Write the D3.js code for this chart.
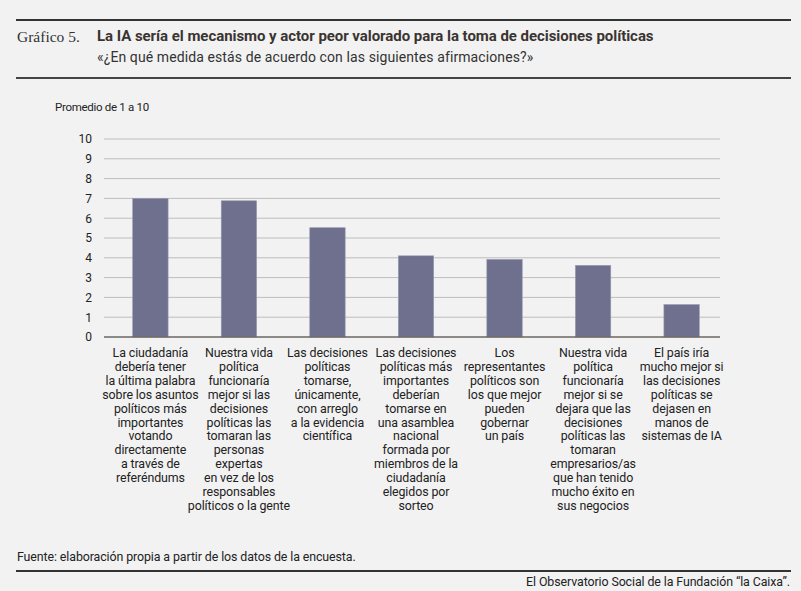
<!DOCTYPE html>
<html>
<head>
<meta charset="utf-8">
<script src="https://cdn.jsdelivr.net/npm/d3@7"></script>
<style>
  body { margin: 0; background: #f2f2f2; }
  svg { display: block; font-family: Roboto, sans-serif; }
</style>
</head>
<body>
<div id="chart"></div>
<script>
// data
const categories = [
  ["La ciudadanía", "debería tener", "la última palabra", "sobre los asuntos", "políticos más", "importantes", "votando", "directamente", "a través de", "referéndums"],
  ["Nuestra vida", "política", "funcionaría", "mejor si las", "decisiones", "políticas las", "tomaran las", "personas", "expertas", "en vez de los", "responsables", "políticos o la gente"],
  ["Las decisiones", "políticas", "tomarse,", "únicamente,", "con arreglo", "a la evidencia", "científica"],
  ["Las decisiones", "políticas más", "importantes", "deberían", "tomarse en", "una asamblea", "nacional", "formada por", "miembros de la", "ciudadanía", "elegidos por", "sorteo"],
  ["Los", "representantes", "políticos son", "los que mejor", "pueden", "gobernar", "un país"],
  ["Nuestra vida", "política", "funcionaría", "mejor si se", "dejara que las", "decisiones", "políticas las", "tomaran", "empresarios/as", "que han tenido", "mucho éxito en", "sus negocios"],
  ["El país iría", "mucho mejor si", "las decisiones", "políticas se", "dejasen en", "manos de", "sistemas de IA"]
];
const values = [7.0, 6.88, 5.52, 4.1, 3.92, 3.62, 1.64];
const yTicks = [0, 1, 2, 3, 4, 5, 6, 7, 8, 9, 10];

const W = 801, H = 591;
const svg = d3.select("#chart").append("svg")
  .attr("width", W)
  .attr("height", H);

svg.append("rect").attr("width", W).attr("height", H).attr("fill", "#f2f2f2");

// header
svg.append("line").attr("x1", 16).attr("x2", 791).attr("y1", 20).attr("y2", 20)
  .attr("stroke", "#333").attr("stroke-width", 2);
svg.append("line").attr("x1", 16).attr("x2", 791).attr("y1", 78).attr("y2", 78)
  .attr("stroke", "#444").attr("stroke-width", 2);

svg.append("text")
  .attr("x", 17).attr("y", 42)
  .style("font-family", "'Liberation Serif', serif")
  .style("font-size", "15.5px")
  .style("fill", "#333")
  .text("Gráfico 5.");

svg.append("text")
  .attr("x", 97).attr("y", 41)
  .style("font-size", "15px")
  .style("font-weight", "bold")
  .style("letter-spacing", "-0.05px")
  .style("fill", "#3a3431")
  .text("La IA sería el mecanismo y actor peor valorado para la toma de decisiones políticas");

svg.append("text")
  .attr("x", 97).attr("y", 62)
  .style("font-size", "14px")
  .style("letter-spacing", "0.1px")
  .style("fill", "#333")
  .text("«¿En qué medida estás de acuerdo con las siguientes afirmaciones?»");

svg.append("text")
  .attr("x", 55).attr("y", 111)
  .style("font-size", "11.5px")
  .style("letter-spacing", "-0.3px")
  .style("fill", "#222")
  .text("Promedio de 1 a 10");

// chart area
const x0 = 104, x1 = 720, yTop = 139, yBot = 337;

const x = d3.scaleBand()
  .domain(d3.range(values.length))
  .range([x0, 728])
  .paddingInner(0.6)
  .paddingOuter(0.324);

const y = d3.scaleLinear()
  .domain([0, 10])
  .range([yBot, yTop]);

// gridlines
svg.append("g")
  .selectAll("line")
  .data(yTicks.filter(d => d > 0))
  .join("line")
  .attr("x1", x0).attr("x2", x1)
  .attr("y1", d => y(d)).attr("y2", d => y(d))
  .attr("stroke", "#bdbdbd")
  .attr("stroke-width", 1);

// y axis labels
const yAxis = svg.append("g")
  .attr("transform", `translate(${x0 - 12},0)`)
  .call(d3.axisLeft(y).tickValues(yTicks).tickSize(0).tickPadding(0));
yAxis.select(".domain").remove();
yAxis.selectAll("text")
  .style("font-family", "Roboto, sans-serif")
  .style("font-size", "12px")
  .style("fill", "#222");

// bars
svg.append("g")
  .selectAll("rect")
  .data(values)
  .join("rect")
  .attr("x", (d, i) => x(i))
  .attr("width", x.bandwidth())
  .attr("y", d => y(d))
  .attr("height", d => y(0) - y(d))
  .attr("fill", "#6e708d")
  .attr("stroke", "#9a9cb3")
  .attr("stroke-width", 0.6);

// baseline
svg.append("line")
  .attr("x1", x0).attr("x2", x1)
  .attr("y1", y(0)).attr("y2", y(0))
  .attr("stroke", "#6b6663")
  .attr("stroke-width", 1.6);

// category labels
const labels = svg.append("g")
  .selectAll("text")
  .data(categories)
  .join("text")
  .attr("x", (d, i) => x(i) + x.bandwidth() / 2)
  .attr("y", 357)
  .attr("text-anchor", "middle")
  .style("font-size", "12.4px")
  .style("letter-spacing", "-0.1px")
  .style("fill", "#222");

labels.selectAll("tspan")
  .data(d => d)
  .join("tspan")
  .attr("x", function () { return d3.select(this.parentNode).attr("x"); })
  .attr("dy", (d, i) => i === 0 ? 0 : 13.9)
  .text(d => d);

// footer
svg.append("text")
  .attr("x", 17).attr("y", 561)
  .style("font-size", "12.4px")
  .style("letter-spacing", "-0.1px")
  .style("fill", "#222")
  .text("Fuente: elaboración propia a partir de los datos de la encuesta.");

svg.append("line").attr("x1", 16).attr("x2", 791).attr("y1", 571).attr("y2", 571)
  .attr("stroke", "#333").attr("stroke-width", 2);

svg.append("text")
  .attr("x", 790).attr("y", 586)
  .attr("text-anchor", "end")
  .style("font-size", "12.4px")
  .style("letter-spacing", "-0.1px")
  .style("fill", "#222")
  .text("El Observatorio Social de la Fundación “la Caixa”.");
</script>
</body>
</html>
